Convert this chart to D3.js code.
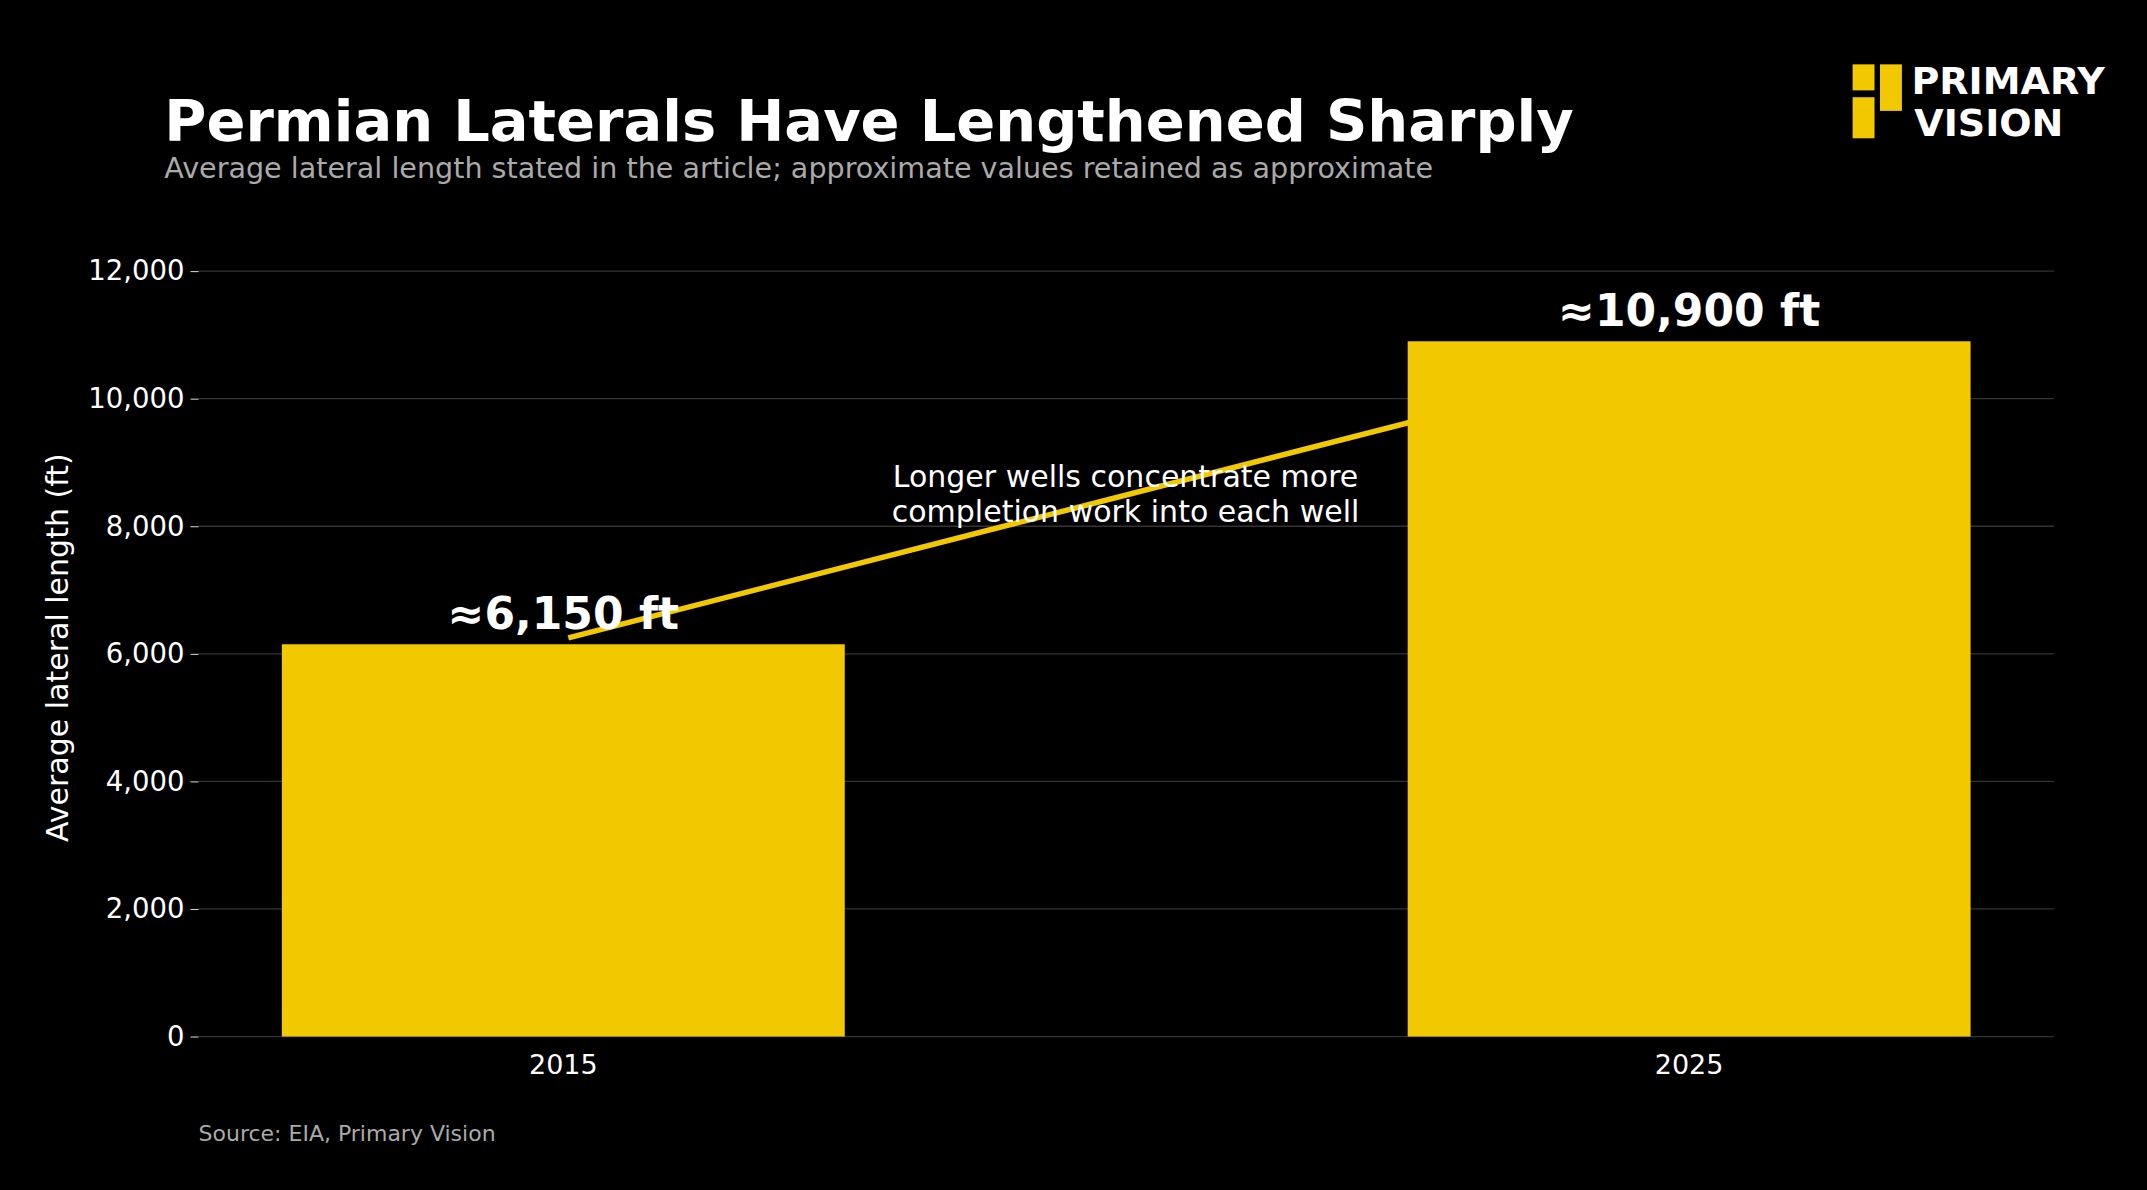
<!DOCTYPE html><html><head><meta charset="utf-8">
<script src="https://cdn.jsdelivr.net/npm/d3@7"></script>
<style>body{margin:0;background:#000}svg{display:block}text{font-family:"DejaVu Sans",sans-serif}</style>
</head><body><svg id="c" width="2147" height="1190"></svg>
<script>
const categories=["2015","2025"];
const values=[6150,10900];
const valueLabels=["≈6,150 ft","≈10,900 ft"];
const trendValues=[6250,10750];
const yTicks=[0,2000,4000,6000,8000,10000,12000];
const S=2147/1568, Y="#F2C800";
const svg=d3.select("#c");
svg.append("rect").attr("width",2147).attr("height",1190).attr("fill","#000");
const x=d3.scaleBand().domain(categories).range([145*S,1500*S]).paddingInner(0.5).paddingOuter(0.074);
const y=d3.scaleLinear().domain([0,12000]).range([757*S,198*S]);
const g=svg.append("g");
g.selectAll("line.grid").data(yTicks).join("line").attr("x1",145*S).attr("x2",1500*S)
 .attr("y1",d=>y(d)).attr("y2",d=>y(d)).attr("stroke","#333").attr("stroke-width",1.3);
const ya=svg.append("g").attr("transform",`translate(${145*S},0)`).call(d3.axisLeft(y).tickValues(yTicks).tickFormat(d3.format(",")).tickSize(8).tickPadding(6));
ya.select(".domain").remove();ya.selectAll("line").attr("stroke","#ddd");
ya.selectAll("text").attr("fill","#fff").style("font-size","27.5px");
const xa=svg.append("g").attr("transform",`translate(0,${757*S})`).call(d3.axisBottom(x).tickSize(0).tickPadding(18));
xa.select(".domain").remove();xa.selectAll("text").attr("fill","#fff").style("font-size","27px");
const bar=i=>svg.append("rect").attr("x",x(categories[i])).attr("width",x.bandwidth()).attr("y",y(values[i])).attr("height",y(0)-y(values[i])).attr("fill",Y);
bar(0);
svg.append("line").attr("x1",x(categories[0])+x.bandwidth()/2+5).attr("y1",y(trendValues[0]))
 .attr("x2",x(categories[1])+x.bandwidth()/2).attr("y2",y(trendValues[1])).attr("stroke",Y).attr("stroke-width",5.5);
bar(1);
svg.selectAll("text.vl").data(values).join("text").attr("x",(d,i)=>x(categories[i])+x.bandwidth()/2)
 .attr("y",d=>y(d)-15).attr("text-anchor","middle").attr("fill","#fff").attr("font-weight","bold").style("font-size","44px").text((d,i)=>valueLabels[i]);
const ann=svg.append("text").attr("text-anchor","middle").attr("fill","#fff").style("font-size","30px");
ann.append("tspan").attr("x",822*S).attr("y",356*S).text("Longer wells concentrate more");
ann.append("tspan").attr("x",822*S).attr("y",381*S).text("completion work into each well");
svg.append("text").attr("transform",`translate(${50*S},${473*S}) rotate(-90)`).attr("text-anchor","middle").attr("fill","#fff").style("font-size","30px").text("Average lateral length (ft)");
svg.append("text").attr("x",120*S).attr("y",103*S).attr("fill","#fff").attr("font-weight","bold").style("font-size","57.5px").text("Permian Laterals Have Lengthened Sharply");
svg.append("text").attr("x",120*S).attr("y",130*S).attr("fill","#aaa").style("font-size","28.6px").text("Average lateral length stated in the article; approximate values retained as approximate");
svg.append("text").attr("x",145*S).attr("y",833*S).attr("fill","#aaa").style("font-size","22px").text("Source: EIA, Primary Vision");
const lg=svg.append("g");
[[1353,47,16,19],[1373,47,16,34],[1353,71,16,30]].forEach(r=>lg.append("rect").attr("x",r[0]*S).attr("y",r[1]*S).attr("width",r[2]*S).attr("height",r[3]*S).attr("fill",Y));
lg.append("text").attr("x",1396*S).attr("y",69*S).attr("fill","#fff").attr("font-family","Roboto").attr("font-weight","bold").style("font-size","38px").text("PRIMARY");
lg.append("text").attr("x",1398*S).attr("y",99*S).attr("fill","#fff").attr("font-family","Roboto").attr("font-weight","bold").style("font-size","38px").text("VISION");
</script></body></html>
